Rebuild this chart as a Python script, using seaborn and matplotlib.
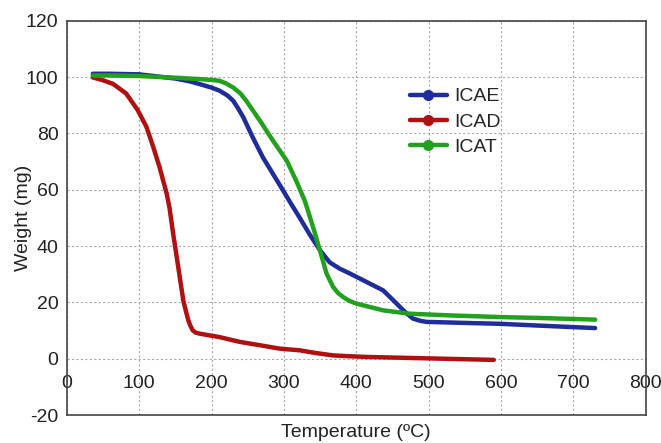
import numpy as np
import pandas as pd
import seaborn as sns
import matplotlib.pyplot as plt
from matplotlib.lines import Line2D

# TGA curves
icae_t = [36, 60, 100, 150, 170, 184, 200, 211, 222, 230, 237, 244, 257, 271, 285,
          299, 310, 322, 336, 350, 363, 377, 391, 414, 437, 451, 465, 478, 488, 497,
          540, 600, 650, 730]
icae_w = [101.2, 101.2, 101.0, 99.5, 98.5, 97.5, 96.3, 95.2, 93.5, 91.6, 88.8, 85.7,
          78.6, 71.5, 65.6, 59.7, 55.0, 50.0, 44.0, 38.5, 34.3, 32.0, 30.3, 27.3,
          24.3, 20.8, 17.2, 14.3, 13.5, 13.1, 12.8, 12.4, 11.8, 10.9]

icad_t = [36, 50, 64, 82, 98, 110, 119, 128, 138, 142, 147, 154, 161, 165, 168, 171,
          174, 178, 184, 211, 239, 267, 294, 322, 345, 368, 390, 414, 506, 590]
icad_w = [99.9, 98.9, 97.6, 94.2, 88.3, 82.4, 75.6, 68.2, 58.7, 53.5, 44.4, 32.6,
          20.7, 16.5, 13.6, 11.6, 10.1, 9.3, 8.9, 7.7, 6.0, 4.8, 3.6, 3.0, 2.0,
          1.2, 0.9, 0.65, 0.1, -0.4]

icat_t = [36, 60, 100, 150, 184, 200, 211, 220, 230, 240, 248, 267, 285, 304, 317,
          329, 340, 350, 359, 368, 375, 382, 390, 400, 437, 474, 529, 600, 650, 730]
icat_w = [100.6, 100.6, 100.4, 99.8, 99.3, 99.0, 98.7, 97.8, 96.3, 94.2, 91.6, 84.5,
          77.4, 70.3, 63.2, 56.0, 47.0, 38.3, 30.2, 25.5, 23.3, 21.9, 20.6, 19.6,
          17.2, 16.0, 15.4, 14.8, 14.5, 13.9]

names = ["ICAE", "ICAD", "ICAT"]
colors = ["#1f2c9c", "#b01010", "#22a01e"]
x_ticks = [0, 100, 200, 300, 400, 500, 600, 700, 800]
y_ticks = [-20, 0, 20, 40, 60, 80, 100, 120]

df = pd.concat([
    pd.DataFrame({"T": icae_t, "W": icae_w, "sample": "ICAE"}),
    pd.DataFrame({"T": icad_t, "W": icad_w, "sample": "ICAD"}),
    pd.DataFrame({"T": icat_t, "W": icat_w, "sample": "ICAT"}),
])

sns.set_style("white")
plt.rcParams["font.family"] = ["Liberation Sans", "DejaVu Sans"]
plt.rcParams["axes.unicode_minus"] = False

fig = plt.figure(figsize=(6.61, 4.43), dpi=100)
ax = fig.add_axes([0.101, 0.063, 0.876, 0.890])

for name, col in zip(names, colors):
    sub = df[df["sample"] == name]
    sns.lineplot(data=sub, x="T", y="W", color=col, lw=3.2, sort=False,
                 ax=ax, legend=False, solid_joinstyle="round",
                 solid_capstyle="round")

ax.set_xlim(0, 800)
ax.set_ylim(-20, 120)
ax.set_xticks(x_ticks)
ax.set_yticks(y_ticks)
ax.grid(True, color="#aaaaaa", linestyle=(0, (2, 2)), linewidth=0.8)
ax.set_axisbelow(True)

for s in ax.spines.values():
    s.set_color("#444444")
    s.set_linewidth(1.2)

# x tick labels sit under the y=0 line, like the original
ax.tick_params(axis="x", length=0, pad=-29, labelsize=14, labelcolor="#222222")
ax.tick_params(axis="y", length=0, pad=6, labelsize=14, labelcolor="#222222")

ax.set_xlabel("Temperature (ºC)", fontsize=14, color="#222222")
ax.set_ylabel("Weight (mg)", fontsize=14, color="#222222")
ax.xaxis.set_label_coords(0.5, -0.022)
ax.yaxis.set_label_coords(-0.06, 0.5)

handles = [Line2D([], [], color=c, lw=3.2, marker="o", markersize=7) for c in colors]
ax.legend(handles, names, loc="upper left", bbox_to_anchor=(0.579, 0.85),
          frameon=False, fontsize=14, handlelength=1.9, handletextpad=0.4,
          labelspacing=0.4, borderaxespad=0)

fig.savefig("out.png", dpi=100)
